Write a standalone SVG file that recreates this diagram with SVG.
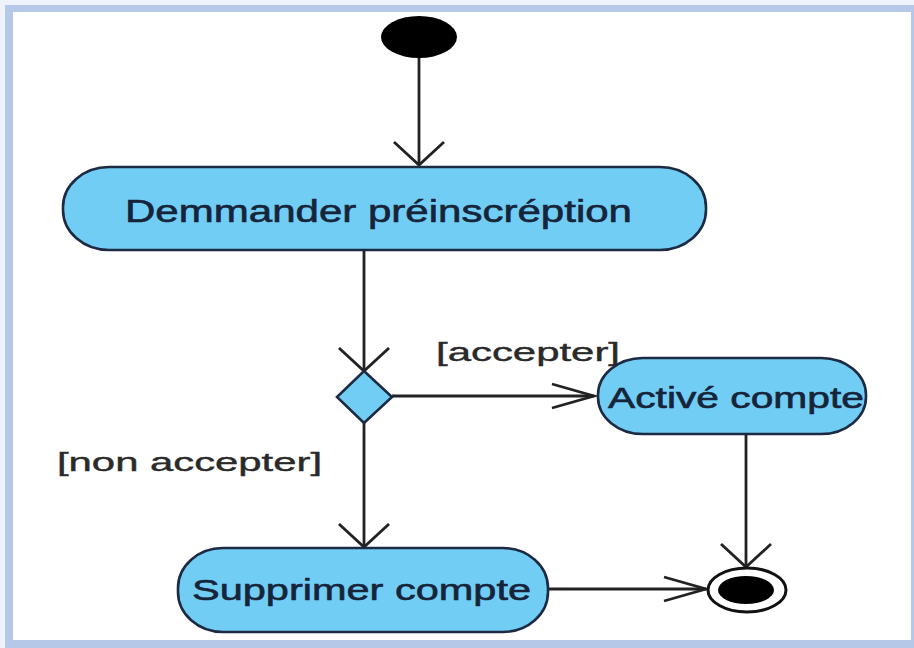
<svg xmlns="http://www.w3.org/2000/svg" width="914" height="648" viewBox="0 0 914 648">
<style>
.frame{fill:#b6c8e8}
.act{fill:#72cdf4;stroke:#1c2b42;stroke-width:2.6}
.lbl{font-family:"Liberation Sans",Arial,sans-serif;fill:#16243a;stroke:#16243a;stroke-width:0.6}
.guard{font-family:"Liberation Sans",Arial,sans-serif;fill:#2a2a2a;stroke:#2a2a2a;stroke-width:0.4}
.conn{fill:none;stroke:#222;stroke-width:2.8}
</style>
<defs>
<marker id="vArr" markerUnits="userSpaceOnUse" viewBox="-25 -26 27 52" refX="0" refY="0" markerWidth="27" markerHeight="52" orient="auto" overflow="visible">
<path d="M-23,-25 L0,0 L-23,25" fill="none" stroke="#222" stroke-width="2.8"/>
</marker>
<marker id="hArr" markerUnits="userSpaceOnUse" viewBox="-44 -13 46 26" refX="0" refY="0" markerWidth="46" markerHeight="26" orient="auto" overflow="visible">
<path d="M-42,-12 L0,0 L-42,12" fill="none" stroke="#222" stroke-width="2.8"/>
</marker>
</defs>
<rect x="0" y="0" width="914" height="648" fill="#ffffff"/>
<rect x="0" y="0" width="914" height="5" fill="#eef2fa"/>
<rect x="0" y="0" width="5" height="648" fill="#eef2fa"/>
<g id="frame">
<rect class="frame" x="5" y="5" width="909" height="7"/>
<rect class="frame" x="5" y="5" width="8" height="643"/>
<rect class="frame" x="5" y="640" width="909" height="8"/>
<rect class="frame" x="911" y="5" width="3" height="643"/>
</g>
<g id="connectors">
<line class="conn" x1="419" y1="57" x2="419" y2="165" marker-end="url(#vArr)"/>
<line class="conn" x1="364" y1="250" x2="364" y2="371" marker-end="url(#vArr)"/>
<line class="conn" x1="392" y1="396" x2="594" y2="396" marker-end="url(#hArr)"/>
<line class="conn" x1="364" y1="423" x2="364" y2="547" marker-end="url(#vArr)"/>
<line class="conn" x1="746" y1="434" x2="746" y2="567" marker-end="url(#vArr)"/>
<line class="conn" x1="548" y1="589" x2="706" y2="589" marker-end="url(#hArr)"/>
<text class="guard" x="436" y="361" font-size="25" textLength="184" lengthAdjust="spacingAndGlyphs">[accepter]</text>
<text class="guard" x="57" y="471" font-size="25" textLength="265" lengthAdjust="spacingAndGlyphs">[non accepter]</text>
</g>
<g id="start">
<ellipse cx="419" cy="37" rx="38" ry="21" fill="#000"/>
</g>
<g id="demmander">
<rect class="act" x="63" y="167" width="643" height="83" rx="46" ry="40"/>
<text class="lbl" x="125" y="222" font-size="31" textLength="507" lengthAdjust="spacingAndGlyphs">Demmander préinscréption</text>
</g>
<g id="decision">
<polygon class="act" points="364,371 392,397 364,423 337,397"/>
</g>
<g id="active">
<rect class="act" x="598" y="358" width="268" height="76" rx="45" ry="37"/>
<text class="lbl" x="608" y="408" font-size="29" textLength="256" lengthAdjust="spacingAndGlyphs">Activé compte</text>
</g>
<g id="supprimer">
<rect class="act" x="178" y="548" width="370" height="84" rx="45" ry="40"/>
<text class="lbl" x="192" y="600" font-size="30" textLength="339" lengthAdjust="spacingAndGlyphs">Supprimer compte</text>
</g>
<g id="end">
<ellipse cx="747" cy="590" rx="39" ry="22" fill="#fff" stroke="#111" stroke-width="3"/>
<ellipse cx="746" cy="590" rx="28" ry="14" fill="#000"/>
</g>
</svg>
